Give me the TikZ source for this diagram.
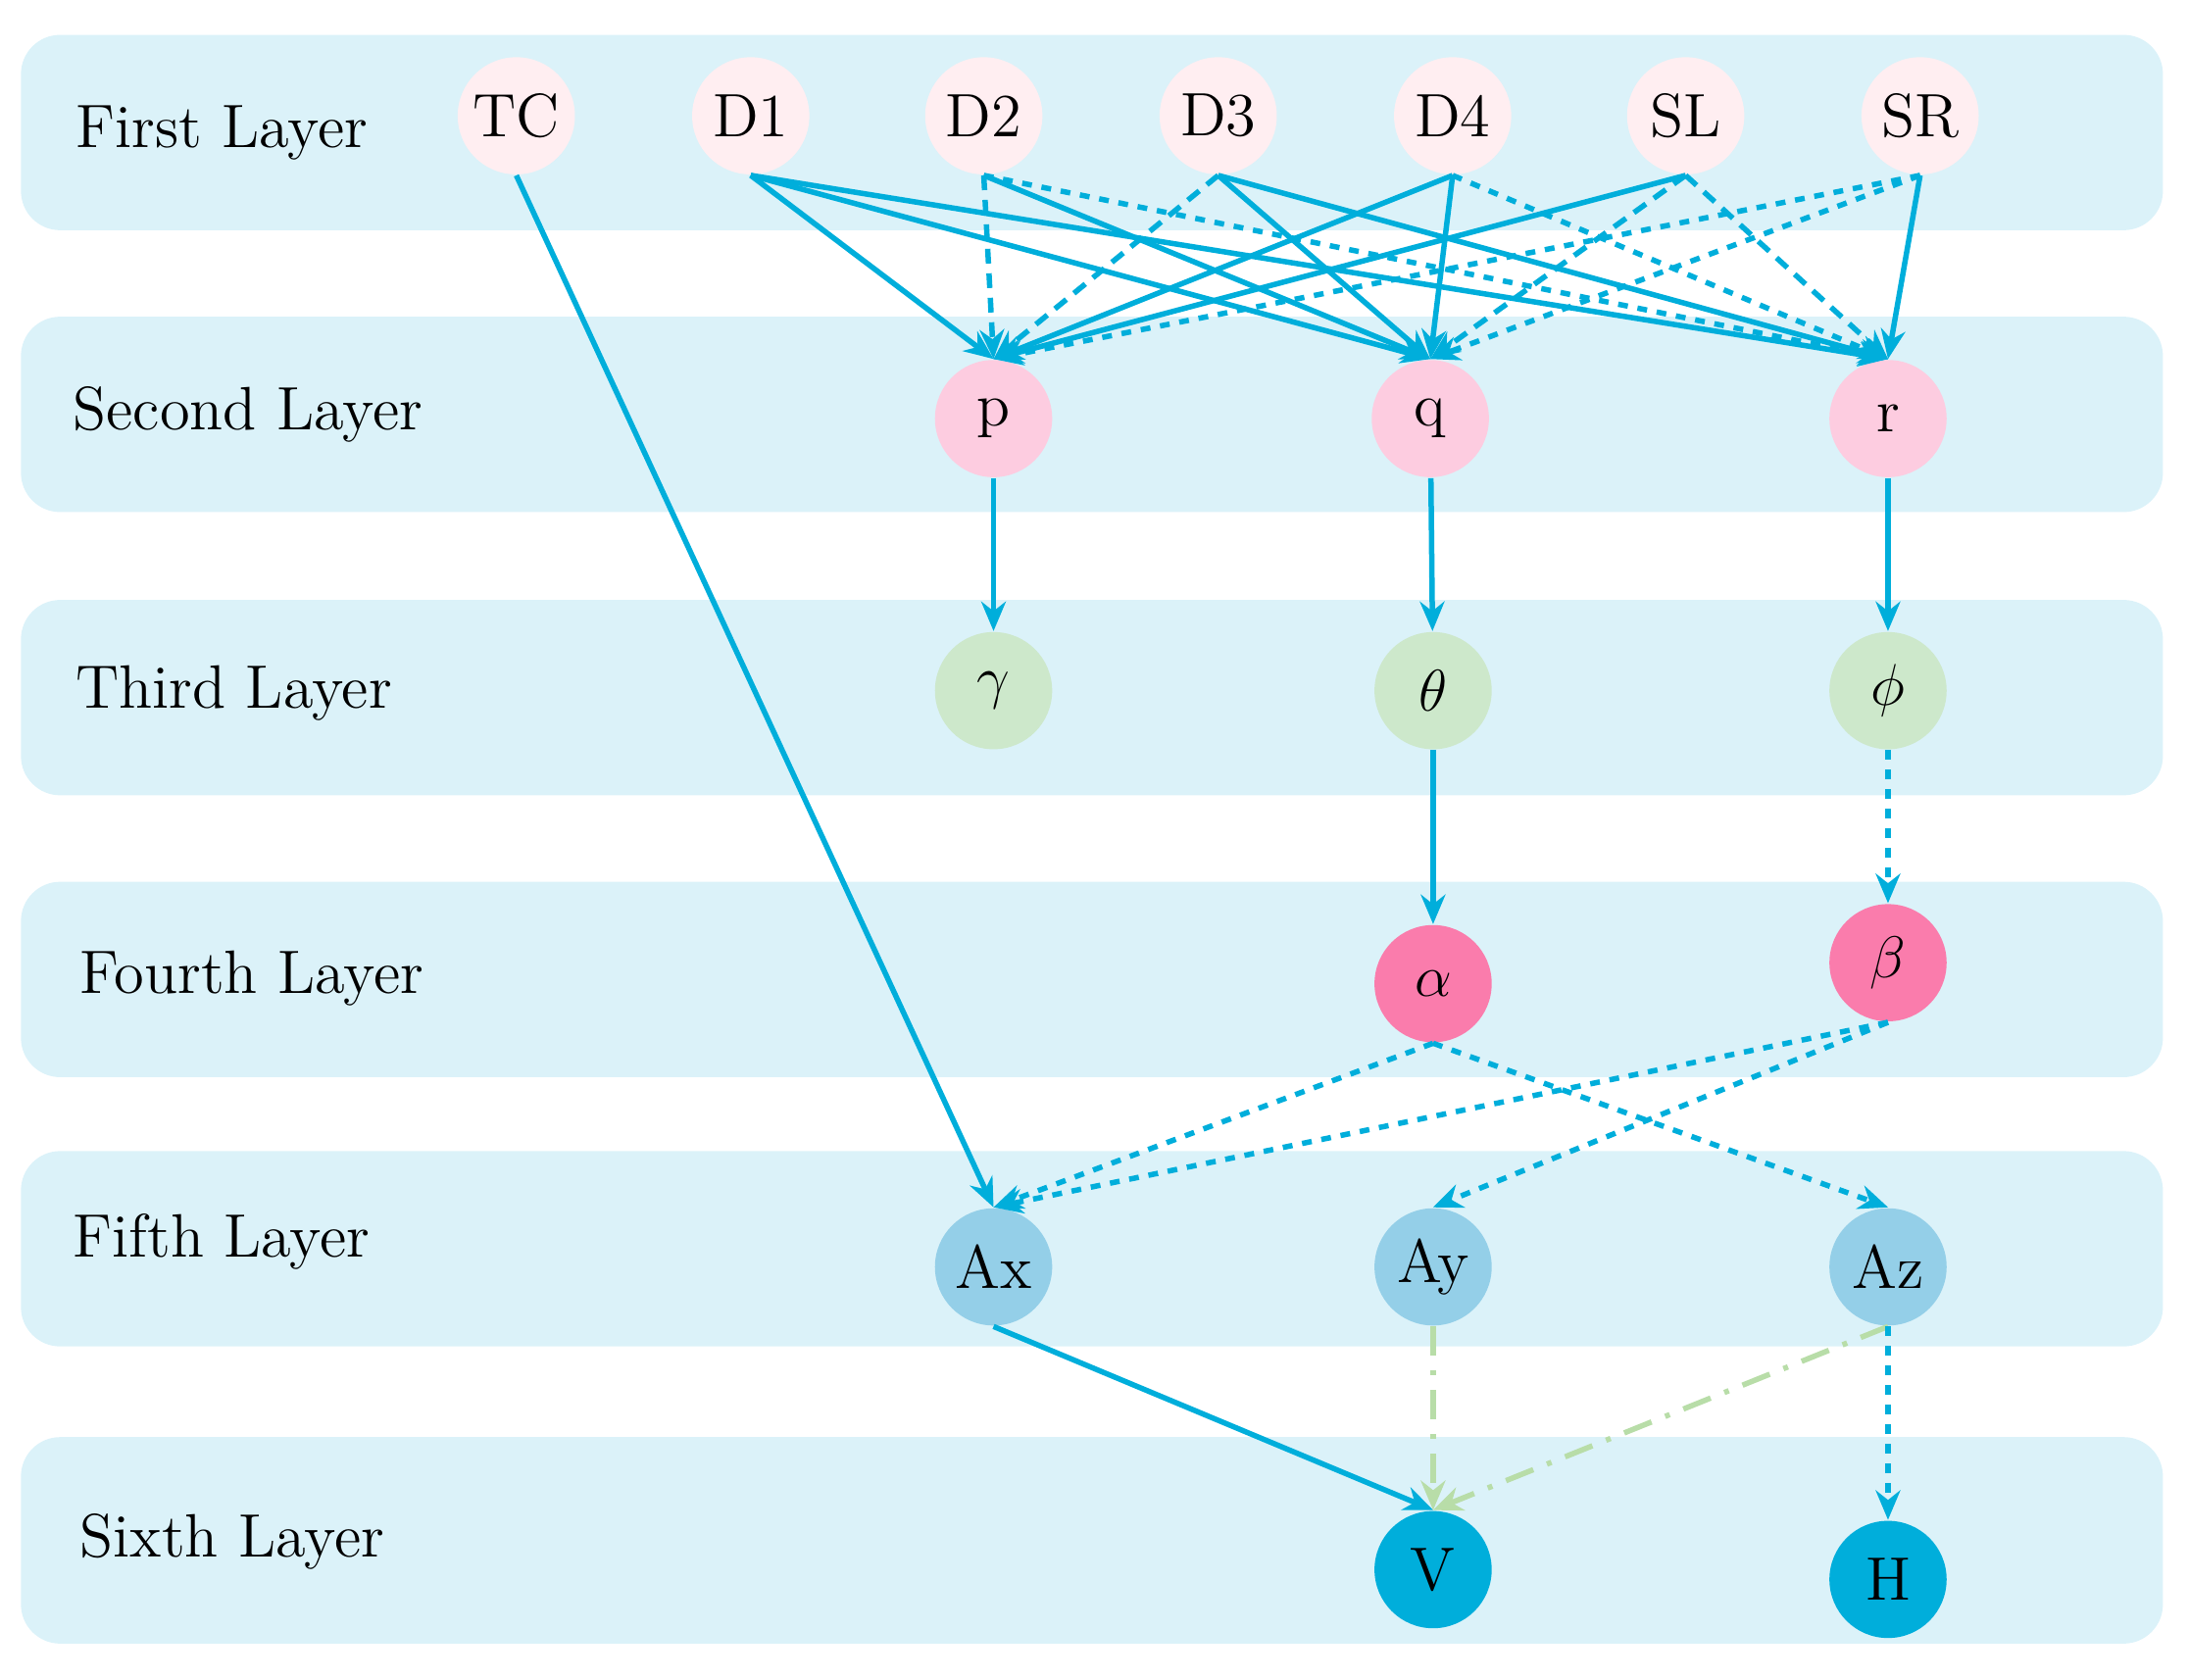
\documentclass[tikz,border=0pt]{standalone}
\usepackage{xcolor}
\usetikzlibrary{arrows.meta,positioning}
\definecolor{band}{HTML}{DBF2F9}
\definecolor{link}{HTML}{00AEDB}
\definecolor{inpink}{HTML}{FFEEF1}
\definecolor{midpink}{HTML}{FDCCE0}
\definecolor{lgreen}{HTML}{CDE8CB}
\definecolor{hotpink}{HTML}{FA7CAC}
\definecolor{lblue}{HTML}{94CFE8}
\definecolor{gline}{HTML}{B8DDA8}
\tikzset{
  vert/.style={circle, minimum size=0.84cm, inner sep=0pt, font=\fontsize{12.5}{14}\selectfont},
  lay/.style={anchor=west, font=\fontsize{12.5}{14}\selectfont},
  e/.style={link, line width=1.1pt, -{Stealth[length=6pt,width=5pt]}},
  d/.style={e, dash pattern=on 3pt off 2pt},
  g/.style={gline, line width=1.1pt, dash pattern=on 6pt off 3pt on 1pt off 3pt, -{Stealth[length=6pt,width=5pt]}}
}
\begin{document}
\begin{tikzpicture}
\useasboundingbox (0,0) rectangle (15.68,-12.04);
% Layer bands
\foreach \t/\b in {0.25/1.65, 2.27/3.67, 4.30/5.70, 6.32/7.72, 8.25/9.65, 10.30/11.78}
  \fill[band, rounded corners=8pt] (0.15,-\t) rectangle (15.5,-\b);
\node[lay] at (0.42,-0.95) {First Layer};
\node[lay] at (0.40,-2.97) {Second Layer};
\node[lay] at (0.42,-4.97) {Third Layer};
\node[lay] at (0.45,-7.01) {Fourth Layer};
\node[lay] at (0.40,-8.90) {Fifth Layer};
\node[lay] at (0.45,-11.05) {Sixth Layer};

% First layer
\foreach \n/\x in {TC/3.70, D1/5.38, D2/7.05, D3/8.73, D4/10.41, SL/12.08, SR/13.76}
  \node[vert, fill=inpink] (\n) at (\x,-0.83) {\n};
% Second to sixth layers
\node[vert, fill=midpink] (p) at (7.12,-3.00) {p};
\node[vert, fill=midpink] (q) at (10.25,-3.00) {q};
\node[vert, fill=midpink] (r) at (13.53,-3.00) {r};
\node[vert, fill=lgreen] (gam) at (7.12,-4.95) {$\gamma$};
\node[vert, fill=lgreen] (the) at (10.27,-4.95) {$\theta$};
\node[vert, fill=lgreen] (phi) at (13.53,-4.95) {$\phi$};
\node[vert, fill=hotpink] (alp) at (10.27,-7.05) {$\alpha$};
\node[vert, fill=hotpink] (bet) at (13.53,-6.90) {$\beta$};
\node[vert, fill=lblue] (Ax) at (7.12,-9.08) {Ax};
\node[vert, fill=lblue] (Ay) at (10.27,-9.08) {Ay};
\node[vert, fill=lblue] (Az) at (13.53,-9.08) {Az};
\node[vert, fill=link] (V) at (10.27,-11.25) {V};
\node[vert, fill=link] (H) at (13.53,-11.32) {H};

% First -> second
\foreach \s/\t in {D1/p, D1/q, D1/r, D2/q, D3/q, D3/r, D4/p, D4/q, SL/p, SR/r}
  \draw[e] (\s.south) -- (\t.north);
\foreach \s/\t in {D2/p, D3/p, SL/q, SL/r}
  \draw[d] (\s.south) -- (\t.north);
\foreach \s/\t in {D2/r, D4/r, SR/p, SR/q}
  \draw[d, dash pattern=on 2pt off 2pt] (\s.south) -- (\t.north);

% Lower layers
\draw[e] (p) -- (gam);
\draw[e] (q) -- (the);
\draw[e] (r) -- (phi);
\draw[e] (the) -- (alp);
\draw[d, dash pattern=on 2pt off 2pt] (phi) -- (bet);
\draw[e] (TC.south) -- (Ax.north);
\foreach \s/\t in {alp/Ax, alp/Az, bet/Ax, bet/Ay}
  \draw[d, dash pattern=on 2pt off 2pt] (\s.south) -- (\t.north);
\draw[e] (Ax.south) -- (V.north);
\draw[g] (Ay.south) -- (V.north);
\draw[g] (Az.south) -- (V.north);
\draw[d, dash pattern=on 2pt off 2pt] (Az.south) -- (H.north);
\end{tikzpicture}
\end{document}
